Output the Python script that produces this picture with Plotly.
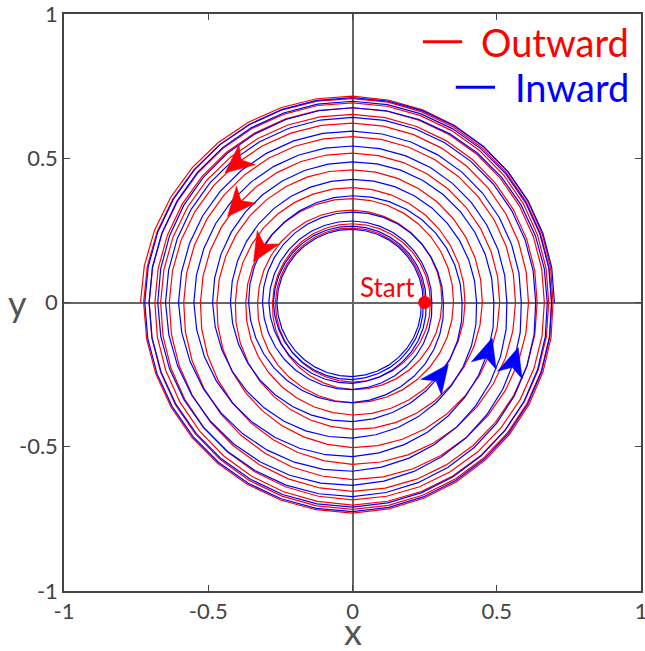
import numpy as np
import plotly.graph_objects as go

# Radius of each trajectory at successive quarter-turns (theta = 0, pi/2, pi, ...),
# counter-clockwise motion starting on the positive x axis.
outward_r = [0.25, 0.258, 0.267, 0.276, 0.27, 0.273, 0.277, 0.302,
             0.31, 0.32, 0.329, 0.348, 0.35, 0.36, 0.37, 0.39,
             0.39, 0.398, 0.406, 0.44, 0.45, 0.46, 0.47, 0.503,
             0.51, 0.518, 0.527, 0.561, 0.565, 0.575, 0.585, 0.614,
             0.61, 0.622, 0.635, 0.655, 0.64, 0.652, 0.665, 0.684,
             0.665, 0.675, 0.685, 0.702, 0.68, 0.692, 0.705, 0.717,
             0.69, 0.707, 0.724, 0.73, 0.695, 0.715, 0.735]
inward_r = [0.70, 0.71, 0.72, 0.725, 0.69, 0.6975, 0.705, 0.709,
            0.675, 0.675, 0.675, 0.673, 0.635, 0.6415, 0.648, 0.634,
            0.585, 0.594, 0.603, 0.585, 0.535, 0.5425, 0.55, 0.534,
            0.49, 0.4875, 0.485, 0.47, 0.43, 0.4265, 0.423, 0.413,
            0.38, 0.37, 0.36, 0.347, 0.315, 0.3135, 0.312, 0.302,
            0.275, 0.2825, 0.29, 0.28, 0.255, 0.2645, 0.274, 0.267,
            0.245, 0.2535, 0.262, 0.257, 0.238]
steps_per_quarter_turn = 9

# Arrowheads: (polar angle in degrees, approximate radius) on each trajectory
outward_arrows = [(126, 0.63), (139, 0.50), (153, 0.37)]
inward_arrows = [(-40, 0.405), (-25.5, 0.48), (-17, 0.585)]

start_label = "Start"
tick_vals = [-1, -0.5, 0, 0.5, 1]
tick_text = ["-1", "-0.5", "0", "0.5", "1"]

RED = "#ff0000"
BLUE = "#0000ff"
FONT = "Lato, 'Open Sans', sans-serif"


def trajectory(quarter_turn_r):
    r_anchor = np.asarray(quarter_turn_r, dtype=float)
    th_anchor = 0.5 * np.pi * np.arange(len(r_anchor))
    theta = np.linspace(0, th_anchor[-1], (len(r_anchor) - 1) * steps_per_quarter_turn + 1)
    r = np.interp(theta, th_anchor, r_anchor)
    return r * np.cos(theta), r * np.sin(theta), theta


def arrow_polygon(xs, ys, theta, target, length=0.1, half_width=0.045, notch=0.72):
    ang, rad = target
    ang_r = np.deg2rad(ang) % (2 * np.pi)
    th_mod = theta % (2 * np.pi)
    d_ang = np.abs((th_mod - ang_r + np.pi) % (2 * np.pi) - np.pi)
    rr = np.hypot(xs, ys)
    cand = np.where(d_ang < np.deg2rad(6))[0]
    i = cand[np.argmin(np.abs(rr[cand] - rad))]
    i = int(np.clip(i, 1, len(xs) - 2))
    ux, uy = xs[i + 1] - xs[i - 1], ys[i + 1] - ys[i - 1]
    n = np.hypot(ux, uy)
    ux, uy = ux / n, uy / n
    px, py = -uy, ux
    tipx, tipy = xs[i] + ux * length * 0.5, ys[i] + uy * length * 0.5
    bx, by = tipx - ux * length, tipy - uy * length
    nx, ny = tipx - ux * length * notch, tipy - uy * length * notch
    polx = [tipx, bx + px * half_width, nx, bx - px * half_width, tipx]
    poly = [tipy, by + py * half_width, ny, by - py * half_width, tipy]
    return polx, poly


fig = go.Figure()

xo, yo, tho = trajectory(outward_r)
xi, yi, thi = trajectory(inward_r)

fig.add_trace(go.Scatter(x=xo, y=yo, mode="lines", line=dict(color=RED, width=1.2),
                         name="Outward", showlegend=False, hoverinfo="skip"))
fig.add_trace(go.Scatter(x=xi, y=yi, mode="lines", line=dict(color=BLUE, width=1.2),
                         name="Inward", showlegend=False, hoverinfo="skip"))

for tgt in outward_arrows:
    ax, ay = arrow_polygon(xo, yo, tho, tgt)
    fig.add_trace(go.Scatter(x=ax, y=ay, mode="lines", fill="toself", fillcolor=RED,
                             line=dict(color=RED, width=0.5), showlegend=False, hoverinfo="skip"))
for tgt in inward_arrows:
    ax, ay = arrow_polygon(xi, yi, thi, tgt)
    fig.add_trace(go.Scatter(x=ax, y=ay, mode="lines", fill="toself", fillcolor=BLUE,
                             line=dict(color=BLUE, width=0.5), showlegend=False, hoverinfo="skip"))

# Start marker
fig.add_trace(go.Scatter(x=[xo[0]], y=[yo[0]], mode="markers",
                         marker=dict(color=RED, size=13), showlegend=False, hoverinfo="skip"))
fig.add_annotation(x=xo[0], y=yo[0], text=start_label, showarrow=False,
                   xanchor="right", yanchor="bottom", xshift=-8, yshift=-2,
                   font=dict(family=FONT, size=26, color=RED))

# Legend drawn as line samples plus right-aligned labels
legend_items = [("Outward", RED, 0.952, 0.622), ("Inward", BLUE, 0.873, 0.679)]
for label, col, ypos, x0 in legend_items:
    fig.add_shape(type="line", xref="paper", yref="paper", x0=x0, x1=x0 + 0.068,
                  y0=ypos, y1=ypos, line=dict(color=col, width=3))
    fig.add_annotation(xref="paper", yref="paper", x=0.982, y=ypos, text=label,
                       showarrow=False, xanchor="right", yanchor="middle",
                       font=dict(family=FONT, size=38, color=col))

# Axis titles
fig.add_annotation(xref="paper", yref="paper", x=0.5, y=-0.07, text="x", showarrow=False,
                   xanchor="center", yanchor="middle", font=dict(family=FONT, size=36, color="#555"))
fig.add_annotation(xref="paper", yref="paper", x=-0.08, y=0.5, text="y", showarrow=False,
                   xanchor="center", yanchor="middle", font=dict(family=FONT, size=36, color="#555"))

axis_common = dict(
    range=[-1, 1], tickvals=tick_vals, ticktext=tick_text,
    ticks="inside", ticklen=6, tickcolor="#444", tickwidth=1,
    showgrid=False, zeroline=True, zerolinecolor="#666", zerolinewidth=2,
    showline=True, linecolor="#444", linewidth=1.5, mirror="ticks",
    tickfont=dict(family=FONT, size=22, color="#444"), automargin=False,
    ticklabeloverflow="allow",
)

fig.update_xaxes(**axis_common)
fig.update_yaxes(**axis_common, scaleanchor="x", scaleratio=1)

fig.update_layout(
    width=645, height=651,
    margin=dict(l=64, r=4, t=14, b=60),
    plot_bgcolor="white", paper_bgcolor="white",
)

fig.write_html("out.html")
